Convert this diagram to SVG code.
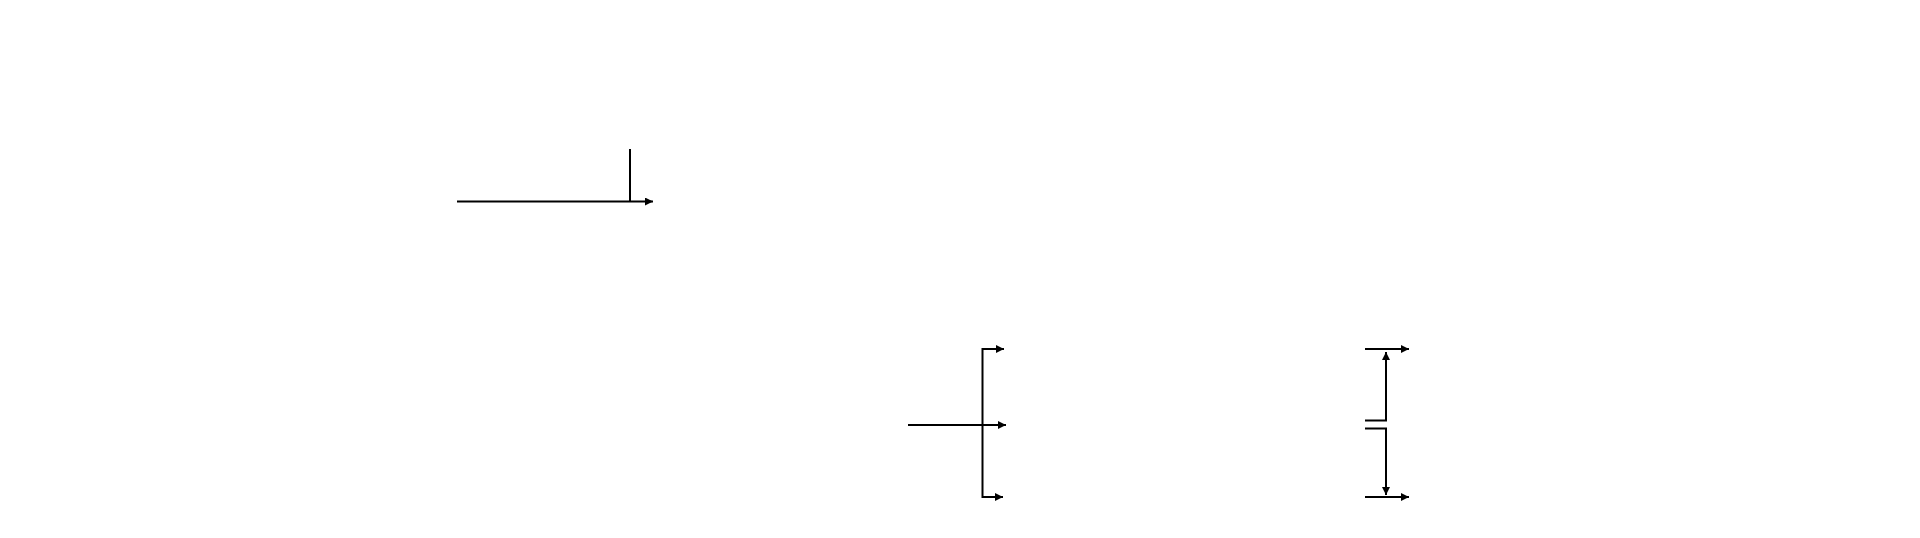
<svg xmlns="http://www.w3.org/2000/svg" width="1920" height="538" viewBox="0 0 1920 538">
<defs>
<marker id="ah" viewBox="0 0 8 8" refX="8" refY="4" markerWidth="4" markerHeight="4" markerUnits="strokeWidth" orient="auto">
<path d="M0,0 L8,4 L0,8 z" fill="#000"/>
</marker>
<style>
.c{fill:none;stroke:#000;stroke-width:2}
</style>
</defs>
<rect width="1920" height="538" fill="#fff"/>
<g id="connectors">
<path class="c" d="M457,201.5 H653" marker-end="url(#ah)"/>
<path class="c" d="M630,149 V201.5"/>
<path class="c" d="M908,425 H1006" marker-end="url(#ah)"/>
<path class="c" d="M1003,349 H982.5 V497 H1003" />
<path class="c" d="M982.5,349 H1004" marker-end="url(#ah)"/>
<path class="c" d="M982.5,497 H1003" marker-end="url(#ah)"/>
<path class="c" d="M1365,349 H1409" marker-end="url(#ah)"/>
<path class="c" d="M1365,420.5 H1386 V352" marker-end="url(#ah)"/>
<path class="c" d="M1365,428.5 H1386 V495" marker-end="url(#ah)"/>
<path class="c" d="M1365,497 H1409" marker-end="url(#ah)"/>
</g>
</svg>
